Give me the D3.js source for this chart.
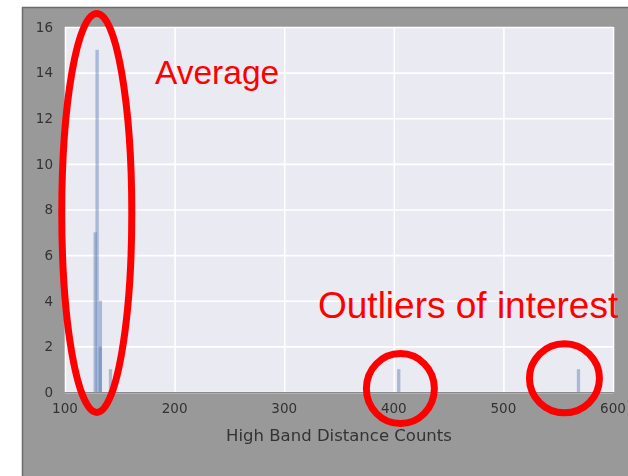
<!DOCTYPE html>
<html>
<head>
<meta charset="utf-8">
<script src="https://cdn.jsdelivr.net/npm/d3@7"></script>
<style>
  html, body { margin: 0; padding: 0; background: #ffffff; }
  svg { display: block; }
</style>
</head>
<body>
<svg id="chart" width="628" height="476"></svg>
<script>
// Histogram of high band distance counts (two overlaid series, semi-transparent)
const binWidth = 3;
const seriesAStarts = [126, 130.6];
const seriesACounts = [7, 2];
const seriesBStarts = [127.8, 130.8, 140, 403, 567];
const seriesBCounts = [15, 4, 1, 1, 1];

const xTicks = [100, 200, 300, 400, 500, 600];
const yTicks = [0, 2, 4, 6, 8, 10, 12, 14, 16];
const xLabel = "High Band Distance Counts";

const annotations = [
  { text: "Average", x: 155, y: 84, size: 33.5 },
  { text: "Outliers of interest", x: 318, y: 318, size: 37 }
];
// Highlight rings: centre in data units, radii in pixels
const rings = [
  { cx: 129, cy: 7.85, rx: 35, ry: 199.5 },
  { cx: 406, cy: 0.15, rx: 34, ry: 35 },
  { cx: 555.7, cy: 0.6, rx: 35, ry: 34.5 }
];

const svg = d3.select("#chart");
const W = 628, H = 476;
const plot = { left: 65, top: 27, right: 613, bottom: 392 };

// figure background with a thin frame on its top and left
svg.append("rect")
  .attr("x", 22.5).attr("y", 7.5)
  .attr("width", W).attr("height", H)
  .attr("fill", "#999999").attr("stroke", "#6c6c6c").attr("stroke-width", 1.5);

const x = d3.scaleLinear().domain([100, 600]).range([plot.left, plot.right]);
const y = d3.scaleLinear().domain([0, 16]).range([plot.bottom, plot.top]);

const soft = svg.append("defs").append("filter").attr("id", "soft")
  .attr("x", "-5%").attr("y", "-5%").attr("width", "110%").attr("height", "110%");
soft.append("feGaussianBlur").attr("stdDeviation", 0.55);

const g = svg.append("g").attr("filter", "url(#soft)");

g.append("rect")
  .attr("x", plot.left).attr("y", plot.top)
  .attr("width", plot.right - plot.left).attr("height", plot.bottom - plot.top)
  .attr("fill", "#eaeaf2");

// grid
g.append("g")
  .attr("transform", `translate(0,${plot.bottom})`)
  .call(d3.axisBottom(x).tickValues(xTicks).tickSize(-(plot.bottom - plot.top)).tickFormat(""))
  .call(s => s.select(".domain").remove())
  .call(s => s.selectAll("line").attr("stroke", "#ffffff").attr("stroke-width", 1.6));
g.append("g")
  .attr("transform", `translate(${plot.left},0)`)
  .call(d3.axisLeft(y).tickValues(yTicks).tickSize(-(plot.right - plot.left)).tickFormat(""))
  .call(s => s.select(".domain").remove())
  .call(s => s.selectAll("line").attr("stroke", "#ffffff").attr("stroke-width", 1.6));

// bars
function drawSeries(starts, counts) {
  const data = starts.map((s, i) => ({ x0: s, x1: s + binWidth, n: counts[i] }));
  g.append("g").selectAll("rect").data(data).join("rect")
    .attr("x", d => x(d.x0))
    .attr("width", d => x(d.x1) - x(d.x0))
    .attr("y", d => y(d.n))
    .attr("height", d => y(0) - y(d.n))
    .attr("fill", "#4c72b0")
    .attr("fill-opacity", 0.42);
}
drawSeries(seriesAStarts, seriesACounts);
drawSeries(seriesBStarts, seriesBCounts);

// plot bottom edge
g.append("line")
  .attr("x1", plot.left).attr("x2", plot.right)
  .attr("y1", plot.bottom + 0.5).attr("y2", plot.bottom + 0.5)
  .attr("stroke", "#8a8a8a").attr("stroke-width", 1);

// tick labels
const tickFont = "'DejaVu Sans', sans-serif";
g.append("g").selectAll("text").data(xTicks).join("text")
  .attr("x", d => x(d)).attr("y", 413)
  .attr("text-anchor", "middle")
  .attr("font-family", tickFont).attr("font-size", 13.5)
  .attr("fill", "#333333")
  .text(d => d);
g.append("g").selectAll("text").data(yTicks).join("text")
  .attr("x", 53).attr("y", d => y(d))
  .attr("dy", "0.36em")
  .attr("text-anchor", "end")
  .attr("font-family", tickFont).attr("font-size", 13.5)
  .attr("fill", "#333333")
  .text(d => d);

g.append("text")
  .attr("x", (plot.left + plot.right) / 2).attr("y", 441)
  .attr("text-anchor", "middle")
  .attr("font-family", tickFont).attr("font-size", 16.5)
  .attr("fill", "#333333")
  .text(xLabel);

// red annotations
const ann = svg.append("g");
ann.selectAll("ellipse").data(rings).join("ellipse")
  .attr("cx", d => x(d.cx)).attr("cy", d => y(d.cy))
  .attr("rx", d => d.rx).attr("ry", d => d.ry)
  .attr("fill", "none").attr("stroke", "#ff0000").attr("stroke-width", 7);
ann.selectAll("text").data(annotations).join("text")
  .attr("x", d => d.x).attr("y", d => d.y)
  .attr("font-family", "'Liberation Sans', Arial, sans-serif")
  .attr("font-size", d => d.size)
  .attr("fill", "#ff0000")
  .text(d => d.text);
</script>
</body>
</html>
